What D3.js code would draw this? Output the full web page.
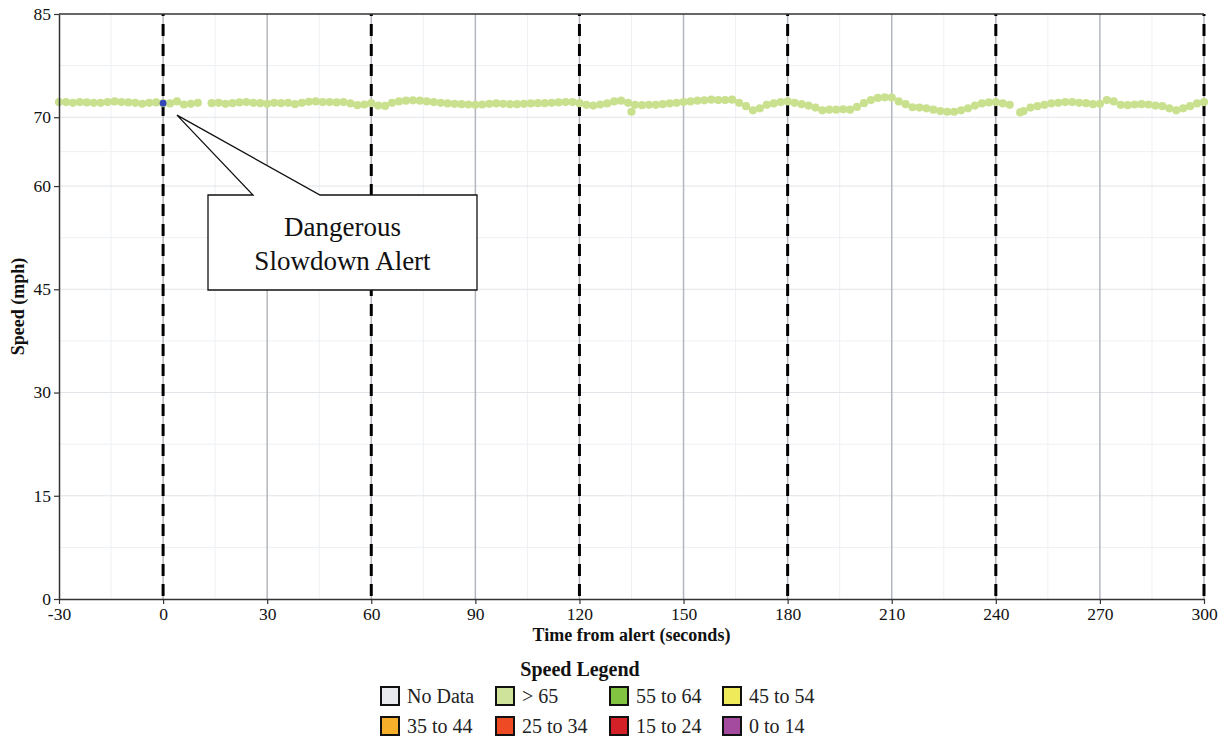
<!DOCTYPE html>
<html>
<head>
<meta charset="utf-8">
<script src="https://cdn.jsdelivr.net/npm/d3@7"></script>
<style>
  html, body { margin: 0; padding: 0; background: #fff; }
  svg { display: block; font-family: "Liberation Serif", "Times New Roman", serif; }
</style>
</head>
<body>
<svg id="chart" width="1225" height="743"></svg>
<script>
// Seconds relative to the alert, and the probe speed (mph) recorded at each
const seconds = [
  -30, -28, -26, -24, -22, -20, -18, -16, -14, -12, -10, -8, -6, -4, -2,
  0, 2, 4, 6, 8, 10, 14, 16, 18, 20, 22, 24, 26, 28,
  30, 32, 34, 36, 38, 40, 42, 44, 46, 48, 50, 52, 54, 56, 58,
  60, 62, 64, 66, 68, 70, 72, 74, 76, 78, 80, 82, 84, 86, 88,
  90, 92, 94, 96, 98, 100, 102, 104, 106, 108, 110, 112, 114, 116, 118,
  120, 122, 124, 126, 128, 130, 132, 134, 135, 136, 138, 140, 142, 144, 146, 148,
  150, 152, 154, 156, 158, 160, 162, 164, 166, 168, 170, 172, 174, 176, 178,
  180, 182, 184, 186, 188, 190, 192, 194, 196, 198, 200, 202, 204, 206, 208,
  210, 212, 214, 216, 218, 220, 222, 224, 226, 228, 230, 232, 234, 236, 238,
  240, 242, 244, 247, 248, 250, 252, 254, 256, 258, 260, 262, 264, 266, 268,
  270, 272, 274, 276, 278, 280, 282, 284, 286, 288, 290, 292, 294, 296, 298, 300
];
const speeds = [
  72.2, 72.2, 72.1, 72.2, 72.15, 72.1, 72.1, 72.2, 72.3, 72.2, 72.15, 72.1, 71.95, 72.1, 72.15,
  72.05, 72.0, 72.3, 71.85, 71.95, 72.1, 72.05, 72.1, 71.95, 72.05, 72.15, 72.2, 72.1, 72.05,
  71.95, 72.1, 72.05, 72.1, 71.9, 72.1, 72.25, 72.3, 72.2, 72.2, 72.15, 72.2, 72.0, 71.75, 71.85,
  72.05, 71.7, 71.65, 72.1, 72.3, 72.4, 72.45, 72.4, 72.3, 72.2, 72.1, 72.0, 71.95, 71.9, 71.85,
  71.8, 71.85, 71.95, 72.0, 71.95, 71.9, 71.9, 71.95, 72.0, 72.05, 72.05, 72.1, 72.15, 72.2, 72.2,
  72.05, 71.8, 71.7, 71.85, 72.0, 72.3, 72.4, 72.1, 70.8, 71.8, 71.75, 71.8, 71.8, 71.9, 72.0, 72.1,
  72.2, 72.3, 72.4, 72.45, 72.55, 72.5, 72.5, 72.55, 72.1, 71.6, 71.0, 71.3, 71.8, 72.0, 72.2,
  72.3, 72.1, 71.9, 71.7, 71.4, 71.0, 71.1, 71.1, 71.15, 71.1, 71.5, 72.05, 72.5, 72.8, 72.9,
  72.85, 72.3, 71.9, 71.45, 71.4, 71.3, 71.1, 70.9, 70.8, 70.8, 71.0, 71.3, 71.7, 72.0, 72.15,
  72.2, 72.0, 71.8, 70.7, 70.9, 71.4, 71.6, 71.8, 72.0, 72.1, 72.2, 72.2, 72.1, 72.05, 71.9,
  71.95, 72.5, 72.3, 71.8, 71.75, 71.85, 71.9, 71.85, 71.7, 71.6, 71.3, 71.0, 71.3, 71.6, 72.0, 72.2
];

// The alert itself
const alertSecond = 0;
const alertSpeed = 72.05;
const calloutLines = ["Dangerous", "Slowdown Alert"];

// Axis ticks
const xTicks = [-30, 0, 30, 60, 90, 120, 150, 180, 210, 240, 270, 300];
const xMinorGrid = [-15, 15, 45, 75, 105, 135, 165, 195, 225, 255, 285];
const alertMarks = [0, 60, 120, 180, 240, 300];
const yTicks = [0, 15, 30, 45, 60, 70, 85];
const yMinorGrid = [7.5, 22.5, 37.5, 52.5, 65, 77.5];

// Legend entries
const legendLabels = ["No Data", "> 65", "55 to 64", "45 to 54", "35 to 44", "25 to 34", "15 to 24", "0 to 14"];
const legendColors = ["#e8eaee", "#cfe49a", "#82c341", "#eeea5a", "#f6b02a", "#ee4a24", "#d42128", "#a54b9f"];

const svg = d3.select("#chart");
const margin = { left: 59, right: 21, top: 14, bottom: 144 };
const W = 1225, H = 743;

const x = d3.scaleLinear().domain([-30, 300]).range([margin.left, W - margin.right]);
const y = d3.scaleLinear().domain([0, 85]).range([H - margin.bottom, margin.top]);

const [x0, x1] = x.range();
const [yb, yt] = y.range();

// Grid
const grid = svg.append("g");
grid.selectAll(".hmin").data(yMinorGrid).join("line")
  .attr("x1", x0).attr("x2", x1)
  .attr("y1", d => y(d)).attr("y2", d => y(d))
  .attr("stroke", "#eef0f3").attr("stroke-width", 1);
grid.selectAll(".vmin").data(xMinorGrid).join("line")
  .attr("x1", d => x(d)).attr("x2", d => x(d))
  .attr("y1", yt).attr("y2", yb)
  .attr("stroke", "#eef0f3").attr("stroke-width", 1);
grid.selectAll(".hmaj").data(yTicks.filter(d => d > 0 && d < 85)).join("line")
  .attr("x1", x0).attr("x2", x1)
  .attr("y1", d => y(d)).attr("y2", d => y(d))
  .attr("stroke", "#e1e4e8").attr("stroke-width", 1);
grid.selectAll(".vmaj").data(xTicks.filter(d => d > -30)).join("line")
  .attr("x1", d => x(d)).attr("x2", d => x(d))
  .attr("y1", yt).attr("y2", yb)
  .attr("stroke", "#b3b7bd").attr("stroke-width", 1.5);

// Dashed reference lines every minute after the alert
svg.append("g").selectAll("line").data(alertMarks).join("line")
  .attr("x1", d => x(d)).attr("x2", d => x(d))
  .attr("y1", yt).attr("y2", yb)
  .attr("stroke", "#000").attr("stroke-width", 3)
  .attr("stroke-dasharray", "12,8").attr("stroke-dashoffset", -10);

// Speed samples
const pts = seconds.map((s, i) => ({ s, v: speeds[i] }));
svg.append("g").selectAll("circle").data(pts).join("circle")
  .attr("cx", d => x(d.s)).attr("cy", d => y(d.v))
  .attr("r", 4.1)
  .attr("fill", "#c9e18e");

// Alert point
svg.append("circle")
  .attr("cx", x(alertSecond)).attr("cy", y(alertSpeed))
  .attr("r", 3.4).attr("fill", "#3447b8");

// Callout box with pointer
const tipX = x(4), tipY = y(70.3);
const bx0 = 208, bx1 = 477, by0 = 195, by1 = 290;
const callout = d3.path();
callout.moveTo(bx0, by0);
callout.lineTo(253, by0);
callout.lineTo(tipX, tipY);
callout.lineTo(320, by0);
callout.lineTo(bx1, by0);
callout.lineTo(bx1, by1);
callout.lineTo(bx0, by1);
callout.closePath();
svg.append("path").attr("d", callout.toString())
  .attr("fill", "#fff").attr("stroke", "#111").attr("stroke-width", 1.3);
svg.append("g").selectAll("text").data(calloutLines).join("text")
  .attr("x", (bx0 + bx1) / 2)
  .attr("y", (d, i) => 236 + i * 34)
  .attr("text-anchor", "middle")
  .attr("font-size", 27)
  .attr("fill", "#111")
  .text(d => d);

// Axes (plain hyphen for negative numbers)
const fmt = d => String(d);
const xAxis = svg.append("g").attr("transform", `translate(0,${yb})`)
  .call(d3.axisBottom(x).tickValues(xTicks).tickFormat(fmt).tickSize(5).tickSizeOuter(0).tickPadding(4));
const yAxis = svg.append("g").attr("transform", `translate(${x0},0)`)
  .call(d3.axisLeft(y).tickValues(yTicks).tickFormat(fmt).tickSize(5).tickSizeOuter(0).tickPadding(3));
[xAxis, yAxis].forEach(a => {
  a.select(".domain").attr("stroke", "#333").attr("stroke-width", 1.5);
  a.selectAll(".tick line").attr("stroke", "#333").attr("stroke-width", 1.2);
  a.selectAll(".tick text").attr("font-family", "Liberation Serif, serif")
    .attr("font-size", 17.5).attr("fill", "#111");
});
yAxis.selectAll(".tick text").attr("dy", "0.3em");
// Top frame line
svg.append("line").attr("x1", x0).attr("x2", x1).attr("y1", yt).attr("y2", yt)
  .attr("stroke", "#333").attr("stroke-width", 1.5);

// Axis titles
svg.append("text")
  .attr("x", (x0 + x1) / 2).attr("y", 641)
  .attr("text-anchor", "middle").attr("font-weight", "bold").attr("font-size", 18)
  .attr("fill", "#111")
  .text("Time from alert (seconds)");
svg.append("text")
  .attr("transform", `translate(24,${(yt + yb) / 2}) rotate(-90)`)
  .attr("text-anchor", "middle").attr("font-weight", "bold").attr("font-size", 18)
  .attr("fill", "#111")
  .text("Speed (mph)");

// Legend
const legend = svg.append("g");
legend.append("text")
  .attr("x", 580).attr("y", 676)
  .attr("text-anchor", "middle").attr("font-weight", "bold").attr("font-size", 20)
  .attr("fill", "#111")
  .text("Speed Legend");
const colX = [381, 496, 610, 723];
const rowY = [687, 717];
const items = legendLabels.map((label, i) => ({ label, color: legendColors[i], col: i % 4, row: Math.floor(i / 4) }));
const item = legend.selectAll(".item").data(items).join("g")
  .attr("transform", d => `translate(${colX[d.col]},${rowY[d.row]})`);
item.append("rect")
  .attr("x", 0).attr("y", 0).attr("width", 18).attr("height", 18)
  .attr("fill", d => d.color).attr("stroke", "#111").attr("stroke-width", 2);
item.append("text")
  .attr("x", 26).attr("y", 16)
  .attr("font-size", 20).attr("fill", "#222")
  .text(d => d.label);
</script>
</body>
</html>
